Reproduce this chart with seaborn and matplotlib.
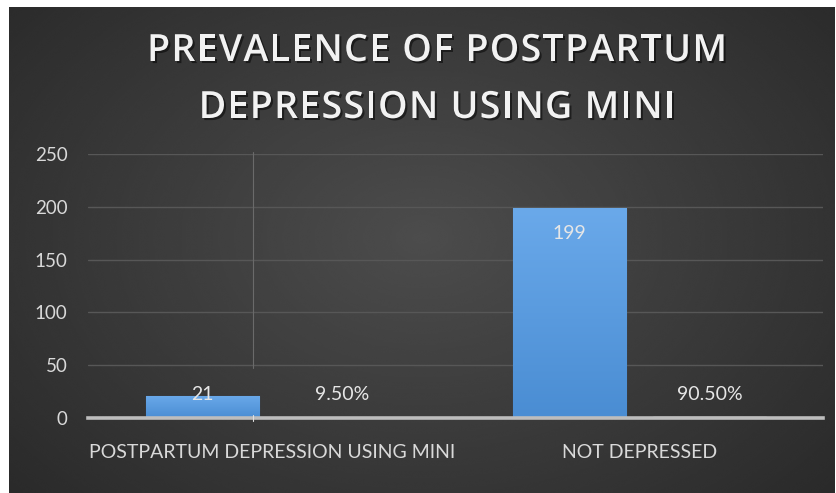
import numpy as np
import pandas as pd
import matplotlib
matplotlib.use("Agg")
import matplotlib.pyplot as plt
import seaborn as sns
from matplotlib import patheffects as pe
from matplotlib import font_manager
from matplotlib.ft2font import FT2Font
from matplotlib.colors import LinearSegmentedColormap

# Chart data
categories = ["POSTPARTUM DEPRESSION USING MINI", "NOT DEPRESSED"]
counts = [21, 199]
shares = [0.095, 0.905]
share_labels = ["9.50%", "90.50%"]
y_ticks = [0, 50, 100, 150, 200, 250]
title_lines = ["PREVALENCE OF POSTPARTUM", "DEPRESSION USING MINI"]

df = pd.DataFrame({
    "category": categories * 2,
    "series": ["Count"] * len(counts) + ["Share"] * len(shares),
    "value": counts + shares,
})

sns.set_theme(style="dark")
plt.rcParams["font.family"] = ["Lato", "DejaVu Sans"]

W, H = 837, 493
fig = plt.figure(figsize=(W / 100, H / 100), dpi=100)
fig.patch.set_facecolor("white")

# Dark panel with a soft radial highlight
bg = fig.add_axes([9 / W, 0, (835 - 9) / W, (H - 7) / H])
yy, xx = np.mgrid[-1:1:300j, -1:1:500j]
r = np.sqrt((xx * 1.0) ** 2 + ((yy + 0.05) * 0.85) ** 2)
shade = 0.30 - 0.14 * np.clip(r, 0, 1.4) / 1.4
bg.imshow(shade, cmap="gray", vmin=0, vmax=1, aspect="auto",
          extent=[0, 1, 0, 1], interpolation="bicubic")
bg.set_axis_off()

ax = fig.add_axes([88.5 / W, (H - 418) / H, (823 - 88.5) / W, (418 - 154) / H])
ax.set_facecolor("none")

sns.barplot(data=df, x="category", y="value", hue="series",
            palette=["#5b9bd5", "#ed7d31"], width=0.763, gap=0.193,
            saturation=1, legend=False, ax=ax, zorder=3)

# Vertical gradient on the count bars
blue_grad = LinearSegmentedColormap.from_list("bg", ["#4a8dd3", "#6aa9ea"])
grad = np.linspace(0, 1, 100).reshape(-1, 1)
for bar in ax.containers[0]:
    x0, y0 = bar.get_x(), bar.get_y()
    w, h = bar.get_width(), bar.get_height()
    im = ax.imshow(grad, extent=[x0, x0 + w, y0, y0 + h], origin="lower",
                   aspect="auto", cmap=blue_grad, zorder=3.5)
    im.set_clip_path(bar)
    bar.set_edgecolor("#3f7cbf")
    bar.set_linewidth(0.8)
ax.set_ylim(0, 250)
ax.set_xlim(-0.5, 1.5)

px_per_unit = (418 - 154) / 250.0
txt_color = "#d9d9d9"

# Count labels: inside the bar end, kept clear of the baseline
for bar, v in zip(ax.containers[0], counts):
    cx = bar.get_x() + bar.get_width() / 2
    bar_px = v * px_per_unit
    off_px = max(-26, 24 - bar_px)
    ax.annotate(str(v), xy=(cx, v), xytext=(0, off_px * 0.72),
                textcoords="offset points", ha="center", va="center",
                color="#e6e6e6", fontsize=14, zorder=6)

# Share labels above their bars
for bar, v, lab in zip(ax.containers[1], shares, share_labels):
    cx = bar.get_x() + bar.get_width() / 2
    ax.annotate(lab, xy=(cx, v), xytext=(0, 23 * 0.72),
                textcoords="offset points", ha="center", va="center",
                color="#e6e6e6", fontsize=14, zorder=6)

ax.set_yticks(y_ticks)
ax.yaxis.grid(True, color="#575757", linewidth=1.0, zorder=0)
ax.xaxis.grid(False)
ax.set_axisbelow(True)
for s in ["top", "right", "left"]:
    ax.spines[s].set_visible(False)
ax.spines["bottom"].set_color("#bdbdbd")
ax.spines["bottom"].set_linewidth(2.6)
ax.spines["bottom"].set_zorder(4)

ax.tick_params(axis="y", colors=txt_color, labelsize=13.5, length=0, pad=15)
ax.tick_params(axis="x", colors=txt_color, labelsize=14, length=0, pad=19)
ax.set_xlabel("")
ax.set_ylabel("")

# Thin stray divider in the left group
ax.plot([-0.052, -0.052], [47, 252], color="#6a6a6a", linewidth=0.8,
        zorder=2, clip_on=False)
ax.plot([-0.052, -0.052], [-3, 3], color="#e0e0e0", linewidth=0.8,
        zorder=5, clip_on=False)

# Letter-spaced bold title
title_font = font_manager.findfont(
    font_manager.FontProperties(family="Open Sans", weight="semibold"))
title_size = 27
ft = FT2Font(title_font)
ft.set_size(title_size, 100)


def advances(s):
    return [ft.load_char(ord(c)).linearHoriAdvance / 65536.0 for c in s]


first_adv = advances(title_lines[0])
spacing = (580 - sum(first_adv)) / (len(title_lines[0]) - 1)
title_cx = 437
baselines = [61, 118]
shadow = [pe.withSimplePatchShadow(offset=(1.5, -1.5), shadow_rgbFace="black",
                                   alpha=0.5)]
for line, base in zip(title_lines, baselines):
    adv = advances(line)
    total = sum(adv) + spacing * (len(line) - 1)
    pen = title_cx - total / 2
    for c, a in zip(line, adv):
        if c != " ":
            fig.text((pen + a / 2) / W, 1 - base / H, c, ha="center",
                     va="baseline", fontsize=title_size, fontweight="semibold",
                     color="#f2f2f2", family=["Open Sans", "DejaVu Sans"],
                     path_effects=shadow)
        pen += a + spacing

fig.savefig("out.png", dpi=100, facecolor=fig.get_facecolor())
